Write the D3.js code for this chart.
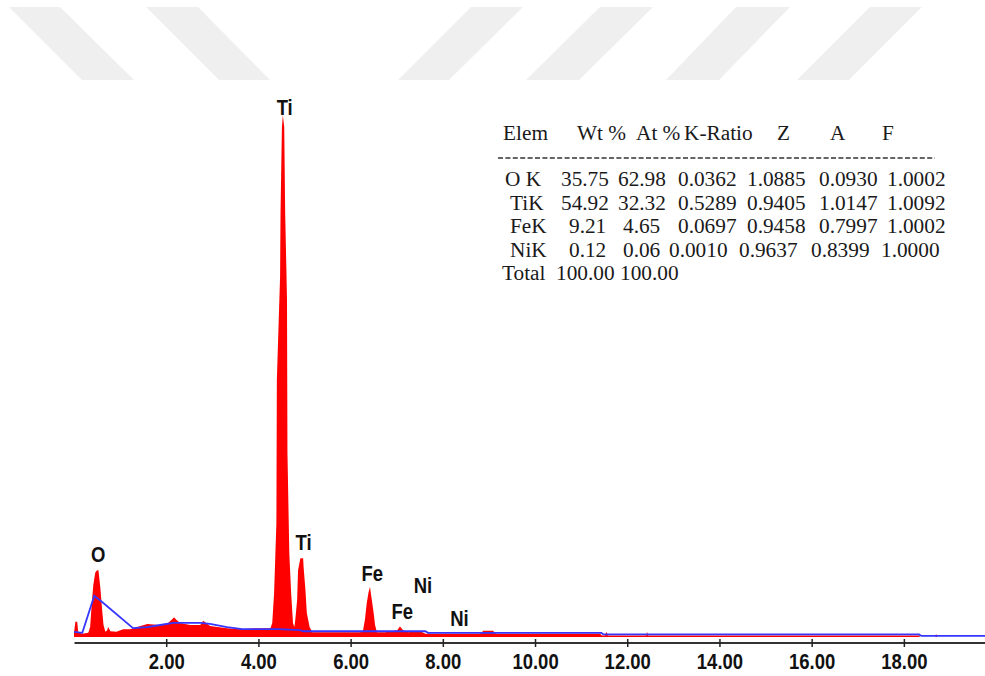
<!DOCTYPE html>
<html>
<head>
<meta charset="utf-8">
<script src="https://cdn.jsdelivr.net/npm/d3@7"></script>
<style>
  body { margin: 0; background: #fff; }
  svg { display: block; }
</style>
</head>
<body>
<script>
// EDS spectrum: [energy keV, counts]
const spectrum = [
  [0.00, 8], [0.03, 29], [0.07, 29], [0.09, 10], [0.18, 6], [0.31, 8],
  [0.35, 19], [0.39, 71], [0.42, 100], [0.46, 123], [0.50, 128], [0.53, 128],
  [0.57, 96], [0.61, 52], [0.64, 23], [0.68, 10], [0.72, 13], [0.74, 19],
  [0.79, 11], [0.92, 10], [1.07, 15], [1.22, 15], [1.37, 19], [1.59, 25],
  [1.87, 23], [2.04, 27], [2.13, 34], [2.17, 38], [2.22, 33], [2.30, 27],
  [2.52, 23], [2.74, 23], [2.80, 31], [2.87, 27], [2.95, 21], [3.32, 17],
  [3.61, 15], [3.93, 17], [4.26, 17], [4.30, 27], [4.34, 84], [4.39, 218],
  [4.40, 492], [4.47, 690], [4.48, 814], [4.51, 977], [4.53, 1000], [4.56, 977],
  [4.58, 814], [4.61, 690], [4.62, 646], [4.63, 353], [4.67, 161], [4.71, 84],
  [4.75, 27], [4.78, 19], [4.80, 33], [4.84, 71], [4.86, 128], [4.91, 151],
  [4.97, 151], [4.98, 134], [5.02, 90], [5.05, 46], [5.11, 19], [5.17, 9],
  [5.56, 9], [6.21, 9], [6.27, 13], [6.31, 33], [6.35, 65], [6.39, 86],
  [6.42, 96], [6.45, 77], [6.50, 46], [6.53, 23], [6.57, 9], [6.75, 9],
  [7.01, 13], [7.07, 20], [7.14, 13], [7.25, 9], [7.33, 11], [7.51, 11],
  [7.62, 6], [8.81, 6], [8.88, 12], [9.09, 12], [9.15, 6], [11.41, 6],
  [11.45, 3], [11.52, 3], [11.55, 10], [11.58, 3], [12.41, 3], [12.43, 10],
  [12.45, 3], [18.33, 3], [18.35, 0], [18.68, 0], [18.70, 6], [18.72, 0],
  [19.76, 0]
];

// background fit (blue line)
const background = [
  [0.00, 10], [0.18, 8], [0.44, 79], [0.61, 67], [1.28, 17], [1.59, 19],
  [1.87, 23], [2.15, 27], [2.74, 27], [2.95, 25], [3.32, 19], [3.65, 15],
  [4.41, 15], [4.91, 13], [4.97, 11], [7.62, 11], [7.68, 8], [11.44, 8],
  [11.48, 5], [18.33, 5], [18.38, 2], [19.76, 2]
];

// peak labels: [text, energy keV, counts at label centre]
const peakLabels = [
  ["Ti", 4.57, 1016], ["O", 0.525, 159], ["Ti", 4.98, 183], ["Fe", 6.47, 123],
  ["Ni", 7.57, 100], ["Fe", 7.12, 50], ["Ni", 8.36, 36]
];

const tickValues = [2, 4, 6, 8, 10, 12, 14, 16, 18];

// quantification table
const tableHeader = ["Elem", "Wt %", "At %", "K-Ratio", "Z", "A", "F"];
const tableRows = [
  ["O K", "35.75", "62.98", "0.0362", "1.0885", "0.0930", "1.0002"],
  ["TiK", "54.92", "32.32", "0.5289", "0.9405", "1.0147", "1.0092"],
  ["FeK", "9.21", "4.65", "0.0697", "0.9458", "0.7997", "1.0002"],
  ["NiK", "0.12", "0.06", "0.0010", "0.9637", "0.8399", "1.0000"],
  ["Total", "100.00", "100.00"]
];

// layout of the table (left edge of each cell, and row baselines)
const headerX = [503, 577, 636, 684, 777, 830, 882];
const rowX = [
  [505, 561, 618, 678, 747, 819, 887],
  [510, 561, 618, 678, 747, 819, 887],
  [510, 569, 623, 678, 747, 819, 887],
  [510, 569, 623, 669, 739, 811, 881],
  [502, 556, 620]
];
const rowY = [186, 209.5, 233, 257, 280];

const width = 985;
const height = 676;

const svg = d3.select("body").append("svg")
  .attr("width", width)
  .attr("height", height);

// faint watermark stripes at the top
const stripes = [
  [[9, 7], [60, 7], [134, 80], [82, 80]],
  [[146, 7], [198, 7], [270, 80], [219, 80]],
  [[471, 7], [523, 7], [449, 80], [398, 80]],
  [[600, 7], [653, 7], [579, 80], [526, 80]],
  [[736, 7], [790, 7], [719, 80], [666, 80]],
  [[870, 7], [922, 7], [849, 80], [797, 80]]
];
svg.append("g")
  .selectAll("polygon")
  .data(stripes)
  .join("polygon")
  .attr("points", d => d.map(p => p.join(",")).join(" "))
  .attr("fill", "#efefef");

const x = d3.scaleLinear()
  .domain([0, 19.76])
  .range([74, 985]);

const y = d3.scaleLinear()
  .domain([0, 1000])
  .range([637, 115]);

// spectrum
const area = d3.area()
  .x(d => x(d[0]))
  .y0(y(0))
  .y1(d => y(d[1]));
svg.append("path")
  .attr("d", area(spectrum))
  .attr("fill", "#ff0000");

const line = d3.line()
  .x(d => x(d[0]))
  .y(d => y(d[1]));
svg.append("path")
  .attr("d", line(background))
  .attr("fill", "none")
  .attr("stroke", "#3636ff")
  .attr("stroke-width", 1.8);

// x axis
const gx = svg.append("g")
  .attr("transform", "translate(0,642.5)")
  .call(d3.axisBottom(x).tickValues(tickValues).tickFormat(d3.format(".2f")).tickSizeOuter(0));
gx.select(".domain")
  .attr("stroke", "#333")
  .attr("stroke-width", 1.8);
gx.selectAll(".tick line")
  .attr("y1", -3.5)
  .attr("y2", 4.5)
  .attr("stroke", "#222")
  .attr("stroke-width", 1.5);
gx.selectAll(".tick text")
  .attr("y", 0)
  .attr("dy", "0.36em")
  .attr("transform", "translate(0,19) scale(1,1.15)")
  .attr("fill", "#111")
  .attr("font-family", "'Liberation Sans', Arial, sans-serif")
  .attr("font-weight", "bold")
  .attr("font-size", 18.5);

// peak labels
svg.append("g")
  .selectAll("text")
  .data(peakLabels)
  .join("text")
  .attr("transform", d => `translate(${x(d[1])},${y(d[2])}) scale(1,1.22)`)
  .attr("dy", "0.36em")
  .attr("text-anchor", "middle")
  .attr("font-family", "'Liberation Sans', Arial, sans-serif")
  .attr("font-weight", "bold")
  .attr("font-size", 18.5)
  .attr("fill", "#111")
  .text(d => d[0]);

// table
const table = svg.append("g")
  .attr("font-family", "'Liberation Serif', 'Times New Roman', serif")
  .attr("font-size", 21.3)
  .attr("fill", "#1a1a1a");

table.selectAll("text.head")
  .data(tableHeader)
  .join("text")
  .attr("class", "head")
  .attr("x", (d, i) => headerX[i])
  .attr("y", 139.5)
  .text(d => d);

table.append("line")
  .attr("x1", 498)
  .attr("x2", 935)
  .attr("y1", 158)
  .attr("y2", 158)
  .attr("stroke", "#333")
  .attr("stroke-width", 1.3)
  .attr("stroke-dasharray", "5,2.4");

tableRows.forEach((row, r) => {
  table.append("g")
    .selectAll("text")
    .data(row)
    .join("text")
    .attr("x", (d, i) => rowX[r][i])
    .attr("y", rowY[r])
    .text(d => d);
});
</script>
</body>
</html>
